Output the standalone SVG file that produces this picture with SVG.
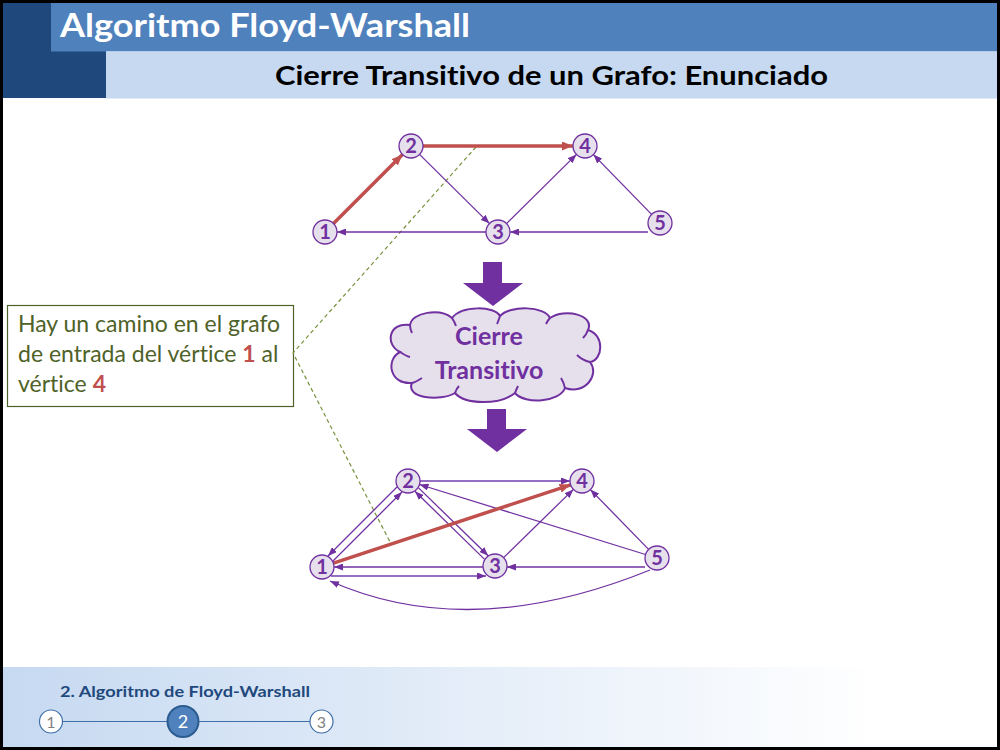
<svg xmlns="http://www.w3.org/2000/svg" width="1000" height="750" viewBox="0 0 1000 750">
<style>
text{font-variant-ligatures:none}
.nd circle{fill:#E6E0EC;stroke:#7030A0;stroke-width:1.3}
.nd text{font-family:Lato,"Open Sans","Liberation Sans",sans-serif;font-weight:bold;font-size:20px;fill:#7030A0;text-anchor:middle}
.e{stroke:#7030A0;stroke-width:1.3;fill:none;marker-end:url(#ap)}
.el{stroke:#9470C4;stroke-width:2;fill:none;marker-end:url(#ap)}
.er{stroke:#C0504D;stroke-width:3.5;fill:none;marker-end:url(#ar)}
.dash{stroke:#77933C;stroke-width:1.2;stroke-dasharray:4 3;fill:none}
.sans{font-family:Lato,"Open Sans","Liberation Sans",sans-serif}
</style>
<defs>
<marker id="ap" viewBox="0 0 9 7" refX="9" refY="3.5" markerWidth="9" markerHeight="7" markerUnits="userSpaceOnUse" orient="auto"><path d="M0,0 L9,3.5 L0,7 z" fill="#7030A0"/></marker>
<marker id="ar" viewBox="0 0 11 9" refX="11" refY="4.5" markerWidth="11" markerHeight="9" markerUnits="userSpaceOnUse" orient="auto"><path d="M0,0 L11,4.5 L0,9 z" fill="#C0504D"/></marker>
<linearGradient id="fg" x1="0" y1="0" x2="1" y2="0"><stop offset="0" stop-color="#C6D9F1"/><stop offset="0.88" stop-color="#FFFFFF"/></linearGradient>
</defs>
<rect x="0" y="0" width="1000" height="750" fill="#000"/>
<rect x="3" y="3" width="994" height="744" fill="#FFF"/>
<g id="header">
<rect x="3" y="3" width="103" height="95" fill="#1F497D"/>
<rect x="51" y="3" width="946" height="48.5" fill="#4F81BD"/>
<rect x="106" y="51.5" width="891" height="47" fill="#C6D9F1"/>
<text x="60" y="37" class="sans" font-size="32" font-weight="bold" fill="#FFF" textLength="410" lengthAdjust="spacingAndGlyphs">Algoritmo Floyd-Warshall</text>
<text x="275" y="85" class="sans" font-size="26" font-weight="bold" fill="#000" textLength="553" lengthAdjust="spacingAndGlyphs">Cierre Transitivo de un Grafo: Enunciado</text>
</g>
<g id="footer">
<rect x="3" y="667" width="994" height="80" fill="url(#fg)"/>
<text x="60" y="697" class="sans" font-size="16" font-weight="bold" fill="#1F497D" textLength="250" lengthAdjust="spacingAndGlyphs">2. Algoritmo de Floyd-Warshall</text>
<line x1="63" y1="721.5" x2="310" y2="721.5" stroke="#3F6FA8" stroke-width="1.2"/>
<circle cx="51" cy="721.5" r="11.5" fill="#FFF" stroke="#3F6FA8" stroke-width="1.2"/>
<text x="51" y="727.5" class="sans" font-size="16" fill="#7F7F7F" text-anchor="middle">1</text>
<circle cx="183" cy="721.5" r="15.5" fill="#4F81BD" stroke="#2C5C8F" stroke-width="2"/>
<text x="183" y="728" class="sans" font-size="18" fill="#FFF" text-anchor="middle">2</text>
<circle cx="321.5" cy="721.5" r="11.5" fill="#FFF" stroke="#3F6FA8" stroke-width="1.2"/>
<text x="321.5" y="727.5" class="sans" font-size="16" fill="#7F7F7F" text-anchor="middle">3</text>
</g>
<g id="note">
<rect x="7.5" y="305.5" width="286" height="101" fill="#FFF" stroke="#4F6228" stroke-width="1.2"/>
<text class="sans" font-size="23" fill="#4F6228">
<tspan x="18" y="332">Hay un camino en el grafo</tspan>
<tspan x="18" y="362">de entrada del vértice <tspan fill="#C0504D" font-weight="bold">1</tspan> al</tspan>
<tspan x="18" y="392">vértice <tspan fill="#C0504D" font-weight="bold">4</tspan></tspan>
</text>
</g>
<g id="callout">
<polyline class="dash" points="476,147 293,353 390,542"/>
</g>
<g id="arrow-down-1"><path d="M483,262 H502 V283 H523 L493,306 L463,283 H483 Z" fill="#7030A0"/></g>
<g id="arrow-down-2"><path d="M487,409 H506 V429 H527 L497,452 L467,429 H487 Z" fill="#7030A0"/></g>
<g id="cloud">
<path d="M400,352 C385,345 388,322 410,325 C412,312 440,308 452,318 C462,305 495,306 500,316 C510,305 545,306 550,318 C565,308 595,315 588,330 C605,335 603,360 590,362 C600,375 585,395 565,388 C560,402 525,405 515,393 C500,405 465,405 455,393 C440,402 405,398 412,383 C390,385 385,360 400,352 Z" fill="#E6E0EC" stroke="#7030A0" stroke-width="2"/>
<path d="M400,352 C403,354 406,356 410,357 M410,325 C410,328 411,331 412,333 M452,318 C454,321 455,323 456,326 M500,316 C499,319 498,322 497,324 M550,318 C548,320 547,322 546,324 M588,330 C587,333 585,336 583,338 M590,362 C585,361 580,358 577,355 M565,388 C564,384 563,381 561,378 M515,393 C516,390 517,388 518,386 M455,393 C456,390 457,388 459,386 M412,383 C416,382 419,380 422,378" fill="none" stroke="#7030A0" stroke-width="2"/>
<text x="489" y="345" class="sans" font-size="25" font-weight="bold" fill="#7030A0" text-anchor="middle">Cierre</text>
<text x="489" y="379" class="sans" font-size="25" font-weight="bold" fill="#7030A0" text-anchor="middle">Transitivo</text>
</g>
<g id="connectors">
<line class="er" x1="333.5" y1="223.5" x2="402.5" y2="154.5"/>
<line class="er" x1="423" y1="146" x2="573" y2="146"/>
<line class="e" x1="419.5" y1="154.4" x2="489.5" y2="223.6"/>
<line class="e" x1="486" y1="232" x2="337" y2="232"/>
<line class="e" x1="506.5" y1="223.6" x2="576.5" y2="154.4"/>
<line class="e" x1="651.6" y1="214.4" x2="593.4" y2="154.6"/>
<line class="e" x1="648" y1="232" x2="510" y2="232"/>

<line class="e" x1="397" y1="487" x2="328" y2="556"/>
<line class="e" x1="333" y1="561" x2="402" y2="492"/>
<line class="e" x1="418.3" y1="487.6" x2="488.2" y2="555.8"/>
<line class="e" x1="484.6" y1="559.4" x2="414.9" y2="491.2"/>
<line class="el" x1="420" y1="481" x2="570" y2="481"/>
<line class="e" x1="645.5" y1="554.5" x2="419.5" y2="484.5"/>
<line class="e" x1="503.6" y1="557.6" x2="573.4" y2="489.4"/>
<line class="e" x1="648.6" y1="549.4" x2="590.4" y2="489.6"/>
<line class="e" x1="483" y1="567" x2="334" y2="567"/>
<line class="el" x1="331" y1="576" x2="486" y2="576"/>
<line class="e" x1="645" y1="567" x2="507" y2="567"/>
<path class="e" d="M650,570 Q470,643 330,581"/>
<line class="er" x1="333.4" y1="563.2" x2="570.6" y2="484.8"/>
</g>
<g id="t1" class="nd"><circle cx="325" cy="232" r="12"/><text x="325" y="239">1</text></g>
<g id="t2" class="nd"><circle cx="411" cy="146" r="12"/><text x="411" y="153">2</text></g>
<g id="t3" class="nd"><circle cx="498" cy="232" r="12"/><text x="498" y="239">3</text></g>
<g id="t4" class="nd"><circle cx="585" cy="146" r="12"/><text x="585" y="153">4</text></g>
<g id="t5" class="nd"><circle cx="660" cy="223" r="12"/><text x="660" y="230">5</text></g>
<g id="b1" class="nd"><circle cx="322" cy="567" r="12"/><text x="322" y="574">1</text></g>
<g id="b2" class="nd"><circle cx="408" cy="481" r="12"/><text x="408" y="488">2</text></g>
<g id="b3" class="nd"><circle cx="495" cy="566" r="12"/><text x="495" y="573">3</text></g>
<g id="b4" class="nd"><circle cx="582" cy="481" r="12"/><text x="582" y="488">4</text></g>
<g id="b5" class="nd"><circle cx="657" cy="558" r="12"/><text x="657" y="565">5</text></g>
</svg>
